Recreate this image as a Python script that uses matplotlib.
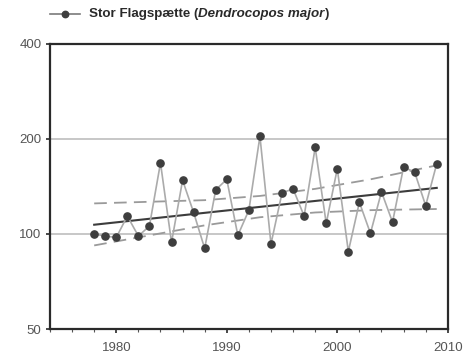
import numpy as np
import matplotlib.pyplot as plt
from matplotlib.ticker import FixedLocator, MultipleLocator, NullFormatter

plt.rcParams['font.family'] = ['Liberation Sans', 'DejaVu Sans']

# yearly index values
years = [1978, 1979, 1980, 1981, 1982, 1983, 1984, 1985, 1986, 1987, 1988,
         1989, 1990, 1991, 1992, 1993, 1994, 1995, 1996, 1997, 1998, 1999,
         2000, 2001, 2002, 2003, 2004, 2005, 2006, 2007, 2008, 2009]
index = [100, 98.5, 97.5, 114, 98.5, 106, 168, 94, 148, 117, 90,
         138, 149, 99, 119, 204, 93, 135, 139, 114, 188, 108,
         161, 88, 126, 100.5, 136, 109, 163, 157, 123, 167]

# trend line and confidence band
trend_years = [1978, 2009]
trend_vals = [107, 140]
band_years = [1978, 1983, 1988, 1993, 1998, 2003, 2009]
band_upper = [125, 126.5, 128, 132, 139, 149, 165]
band_lower = [92, 99, 106.5, 113, 117, 119, 120]

y_ticks = [50, 100, 200, 400]
x_ticks = [1980, 1990, 2000, 2010]

fig = plt.figure(figsize=(4.68, 3.6), dpi=100)
ax = fig.add_axes([0.1068, 0.0861, 0.850, 0.7917])

for yv in [100, 200]:
    ax.axhline(yv, color='#bdbdbd', lw=1.2, zorder=1)

ax.plot(band_years, band_upper, color='#9a9a9a', lw=1.3, dashes=(7, 4), zorder=2)
ax.plot(band_years, band_lower, color='#9a9a9a', lw=1.3, dashes=(7, 4), zorder=2)
ax.plot(trend_years, trend_vals, color='#3c3c3c', lw=1.5, zorder=3)
ax.plot(years, index, color='#ababab', lw=1.2, marker='o', markersize=5.2,
        markerfacecolor='#3e3e3e', markeredgecolor='#3e3e3e', zorder=4)

ax.set_yscale('log')
ax.set_ylim(50, 400)
ax.set_xlim(1974, 2010)
ax.yaxis.set_major_locator(FixedLocator(y_ticks))
ax.yaxis.set_minor_locator(FixedLocator([]))
ax.set_yticklabels([str(v) for v in y_ticks])
ax.yaxis.set_minor_formatter(NullFormatter())
ax.xaxis.set_major_locator(FixedLocator(x_ticks))
ax.xaxis.set_minor_locator(MultipleLocator(2))

for s in ax.spines.values():
    s.set_linewidth(1.6)
    s.set_color('#2a2a2a')
ax.tick_params(axis='both', which='major', length=3, width=1.2, color='#2a2a2a',
               labelsize=9.5, labelcolor='#555555', pad=3)
ax.tick_params(axis='x', which='major', pad=6)
ax.tick_params(axis='x', which='minor', length=2, width=0.8, color='#555555')

# legend drawn above the plot
fig.lines.append(plt.Line2D([50 / 468, 80 / 468], [1 - 14 / 360, 1 - 14 / 360],
                            transform=fig.transFigure, color='#7a7a7a', lw=1.2))
fig.lines.append(plt.Line2D([65 / 468], [1 - 14 / 360], transform=fig.transFigure,
                            marker='o', markersize=4.6, color='#3e3e3e'))
t1 = fig.text(89 / 468, 1 - 14.5 / 360, 'Stor Flagspætte (', fontsize=9.6,
              fontweight='bold', color='#2a2a2a', va='center')
t2 = ax.annotate('Dendrocopos major', xy=(1, 0), xycoords=t1, fontsize=9.6,
                 fontweight='bold', fontstyle='italic', color='#2a2a2a', va='bottom')
ax.annotate(')', xy=(1, 0), xycoords=t2, fontsize=9.6, fontweight='bold',
            color='#2a2a2a', va='bottom')

plt.savefig('out.png', dpi=100)
